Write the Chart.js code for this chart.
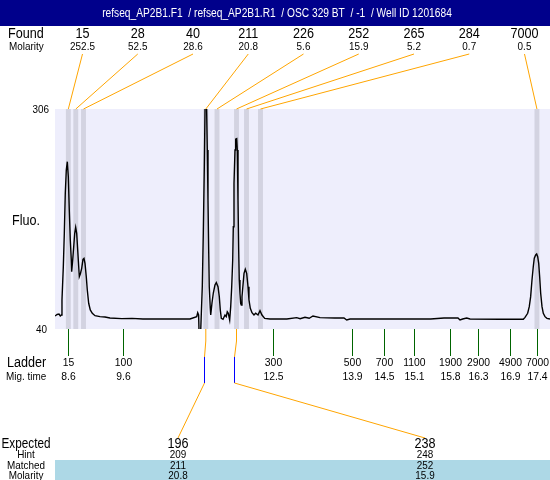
<!DOCTYPE html>
<html>
<head>
<meta charset="utf-8">
<script src="https://cdn.jsdelivr.net/npm/chart.js@4/dist/chart.umd.min.js"></script>
<style>
html,body{margin:0;padding:0;background:#fff;}
canvas{display:block;}
</style>
</head>
<body>
<canvas id="c" width="550" height="480"></canvas>
<script>
// ---------- DATA ----------
const titleText = 'refseq_AP2B1.F1  / refseq_AP2B1.R1  / OSC 329 BT  / -1  / Well ID 1201684';

// electropherogram trace (migration time, fluorescence)
const traceTime = [
 8.350,8.390,8.425,8.449,8.470,8.481,8.506,8.525,8.543,8.562,8.581,8.600,8.618,8.637,8.656,8.663,
 8.682,8.701,8.720,8.738,8.757,8.776,8.795,8.806,8.825,8.851,8.875,8.894,8.913,8.937,8.956,8.982,
 9.012,9.050,9.101,9.194,9.288,9.382,9.600,9.795,10.000,10.320,10.600,10.883,11.009,11.028,11.045,
 11.058,11.077,11.096,11.114,11.133,11.152,11.170,11.189,11.208,11.221,11.234,11.245,11.264,11.272,
 11.296,11.321,11.352,11.377,11.409,11.433,11.452,11.471,11.503,11.540,11.564,11.583,11.602,11.628,
 11.647,11.666,11.685,11.696,11.709,11.728,11.741,11.760,11.771,11.784,11.797,11.808,11.821,11.834,
 11.846,11.859,11.878,11.897,11.921,11.947,11.972,11.990,12.015,12.047,12.084,12.116,12.159,12.197,
 12.234,12.285,12.384,12.700,12.885,12.950,13.041,13.120,13.191,13.323,13.600,13.773,13.824,13.886,
 14.300,14.824,15.400,15.650,15.912,15.950,16.000,16.076,16.138,16.701,17.138,17.170,17.220,17.250,
 17.276,17.301,17.325,17.344,17.370,17.389,17.408,17.427,17.445,17.464,17.489,17.513,17.545,17.582,17.639
];
const traceFluo = [
 55.7,57.5,58.0,55.7,57.0,75.1,115.3,156.1,204.1,232.2,242.3,224.1,183.9,147.6,123.4,109.3,
 123.4,139.5,155.7,163.0,155.7,135.5,115.3,103.2,106.5,113.4,124.3,125.5,119.4,103.2,87.2,71.1,
 63.0,59.0,56.1,54.9,54.5,53.3,52.5,52.9,52.1,52.1,52.1,52.1,54.9,59.7,57.0,
 25,25,59.0,91.1,156.1,236.2,330,330,256.4,196.0,135.5,91.1,65.0,56.9,
 71.4,83.5,93.2,96.0,91.1,79.1,63.0,52.9,51.7,56.9,54.9,60.9,59.0,50.9,
 67.0,91.1,123.4,163.7,216.2,256.4,269.4,270.1,256.4,196.0,135.5,99.2,83.2,71.1,
 69.0,79.1,93.2,107.3,112.2,107.3,91.1,75.1,65.0,59.7,56.9,59.0,56.9,62.1,
 56.9,52.9,52.1,52.1,53.7,52.5,54.1,53.0,55.7,53.7,53.3,53.3,50.9,52.1,
 52.1,52.1,52.1,53.3,53.3,50.9,52.1,53.3,52.1,51.7,51.7,54.1,59.0,67.0,
 79.1,99.2,115.3,125.5,129.5,130.7,127.4,119.4,103.2,83.2,67.0,59.0,54.9,52.9,52.1
];

// y axis range
const fluoMin = 40;
const fluoMax = 306;

// found peaks
const foundSizes    = [15, 28, 40, 211, 226, 252, 265, 284, 7000];
const foundMolarity = ['252.5', '52.5', '28.6', '20.8', '5.6', '15.9', '5.2', '0.7', '0.5'];
const foundTimes    = [8.600, 8.740, 8.885, 11.180, 11.390, 11.756, 11.944, 12.206, 17.394];

// ladder
const ladderSizes    = [15, 100, 300, 500, 700, 1100, 1900, 2900, 4900, 7000];
const ladderTimes    = [8.600, 9.620, 12.441, 13.918, 14.518, 15.092, 15.756, 16.282, 16.894, 17.400];
const ladderMigLabel = ['8.6', '9.6', '12.5', '13.9', '14.5', '15.1', '15.8', '16.3', '16.9', '17.4'];

// expected products
const expectedSizes   = [196, 238];
const hintSizes       = [209, 248];
const matchedSizes    = [211, 252];
const matchedMolarity = ['20.8', '15.9'];
const matchedPeakIdx  = [3, 5];
const hintTimes       = [11.152, 11.715];

// ---------- DRAWING ----------
const FONT = '"Liberation Sans", Arial, Helvetica, sans-serif';
function txt(ctx, s, x, y, size, align, color, sx) {
  sx = sx || 0.9;
  ctx.save();
  ctx.font = size + 'px ' + FONT;
  ctx.fillStyle = color || '#000';
  ctx.textAlign = align || 'center';
  ctx.textBaseline = 'middle';
  ctx.translate(x, y);
  ctx.scale(sx, 1);
  ctx.fillText(String(s), 0, 0);
  ctx.restore();
}
function line(ctx, pts, color, w) {
  ctx.save();
  ctx.strokeStyle = color; ctx.lineWidth = w || 1;
  ctx.beginPath();
  pts.forEach((p, i) => i ? ctx.lineTo(p[0], p[1]) : ctx.moveTo(p[0], p[1]));
  ctx.stroke();
  ctx.restore();
}

const ORANGE = '#FFA500';
const bandHalf = 0.046;

const decor = {
  id: 'decor',
  beforeDatasetsDraw(chart) {
    const {ctx, chartArea: a, scales: {x}} = chart;
    ctx.save();
    ctx.fillStyle = '#EEEEFC';
    ctx.fillRect(a.left, a.top, a.right - a.left, a.bottom - a.top);
    ctx.fillStyle = '#D3D3E1';
    foundTimes.forEach(t => {
      const x0 = x.getPixelForValue(t - bandHalf), x1 = x.getPixelForValue(t + bandHalf);
      ctx.fillRect(x0, a.top, x1 - x0, a.bottom - a.top);
    });
    ctx.restore();
  },
  afterDraw(chart) {
    const {ctx, chartArea: a, scales: {x, y}} = chart;
    // title bar
    ctx.save();
    ctx.fillStyle = '#00008B';
    ctx.fillRect(0, 0, 550, 26);
    ctx.restore();
    txt(ctx, titleText, 277, 14, 12, 'center', '#fff', 0.85);

    // found row
    txt(ctx, 'Found', 8, 34, 14, 'left');
    txt(ctx, 'Molarity', 9, 47, 11, 'left');
    const fx0 = 82.5, fdx = 55.25;
    foundSizes.forEach((s, i) => {
      const lx = fx0 + i * fdx;
      txt(ctx, s, lx, 34, 14);
      txt(ctx, foundMolarity[i], lx, 47, 11);
      line(ctx, [[lx, 54], [x.getPixelForValue(foundTimes[i]), a.top]], ORANGE, 1);
    });

    // y axis labels
    txt(ctx, fluoMax, 49, y.getPixelForValue(fluoMax) + 1, 11, 'right');
    txt(ctx, fluoMin, 47, y.getPixelForValue(fluoMin) + 1, 11, 'right');
    txt(ctx, 'Fluo.', 12, 221, 14, 'left');

    // ladder
    txt(ctx, 'Ladder', 7, 363, 14, 'left');
    txt(ctx, 'Mig. time', 6, 377, 11, 'left');
    ladderSizes.forEach((s, i) => {
      const px = Math.round(x.getPixelForValue(ladderTimes[i])) + 0.5;
      line(ctx, [[px, a.bottom], [px, 356]], '#006400', 1);
      txt(ctx, s, px, 363, 11.5);
      txt(ctx, ladderMigLabel[i], px, 377, 11.5);
    });

    // expected products
    const ex = [178, 425];
    ctx.save();
    ctx.fillStyle = '#ADD8E6';
    ctx.fillRect(55, 460, 495, 20);
    ctx.restore();
    txt(ctx, 'Expected', 26, 444, 14, 'center', '#000', 0.84);
    txt(ctx, 'Hint', 26, 455, 11);
    txt(ctx, 'Matched', 26, 466, 11);
    txt(ctx, 'Molarity', 26, 475.5, 11);
    expectedSizes.forEach((s, i) => {
      const pk = x.getPixelForValue(foundTimes[matchedPeakIdx[i]]);
      const hx = Math.round(x.getPixelForValue(hintTimes[i])) + 0.5;
      line(ctx, [[pk, a.bottom], [pk, 341], [hx, 357]], ORANGE, 1);
      line(ctx, [[hx, 357], [hx, 383]], '#0000FF', 1);
      line(ctx, [[hx, 383], [ex[i], 438]], ORANGE, 1);
      txt(ctx, s, ex[i], 444, 14);
      txt(ctx, hintSizes[i], ex[i], 455, 11);
      txt(ctx, matchedSizes[i], ex[i], 466, 11);
      txt(ctx, matchedMolarity[i], ex[i], 475.5, 11);
    });
  }
};

new Chart(document.getElementById('c'), {
  type: 'line',
  data: {
    datasets: [{
      data: traceTime.map((t, i) => ({x: t, y: traceFluo[i]})),
      borderColor: '#000',
      borderWidth: 1.4,
      pointRadius: 0,
      tension: 0,
      fill: false,
      clip: 0
    }]
  },
  options: {
    responsive: false,
    devicePixelRatio: 1,
    animation: false,
    layout: {padding: {left: 55, top: 109, right: 0, bottom: 151}},
    plugins: {legend: {display: false}, tooltip: {enabled: false}, title: {display: false}},
    scales: {
      x: {type: 'linear', min: 8.35, max: 17.639, display: false},
      y: {type: 'linear', min: fluoMin, max: fluoMax, display: false}
    }
  },
  plugins: [decor]
});
</script>
</body>
</html>
